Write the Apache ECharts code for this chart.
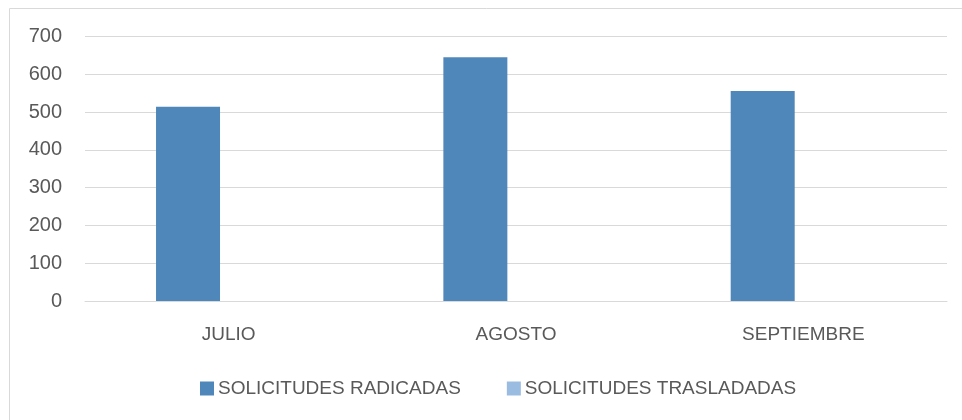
<!DOCTYPE html>
<html>
<head>
<meta charset="utf-8">
<script src="https://cdn.jsdelivr.net/npm/echarts@6/dist/echarts.min.js"></script>
<style>
  html, body { margin: 0; padding: 0; background: #fff; }
  #chart { width: 962px; height: 420px; }
</style>
</head>
<body>
<div id="chart"></div>
<script>
// datos
const meses = ["JULIO", "AGOSTO", "SEPTIEMBRE"];
const radicadas = [514, 645, 556];
const trasladadas = [0, 0, 0];
const serieNombres = ["SOLICITUDES RADICADAS", "SOLICITUDES TRASLADADAS"];

const fuente = "'Liberation Sans', Arial, sans-serif";
const gris = "#595959";

const myChart = echarts.init(document.getElementById("chart"));
const option = {
  animation: false,
  textStyle: { fontFamily: fuente },
  graphic: [
    {
      type: "rect",
      shape: { x: 9.5, y: 8.5, width: 960, height: 420 },
      style: { fill: "none", stroke: "#D9D9D9", lineWidth: 1 },
      silent: true
    }
  ],
  legend: {
    left: 195,
    top: 374,
    itemWidth: 14,
    itemHeight: 14,
    itemGap: 46,
    icon: "rect",
    textStyle: { color: gris, fontSize: 19, fontFamily: fuente, padding: [0, 0, 0, -1] },
    data: serieNombres
  },
  grid: { left: 85, right: 15, top: 36.5, bottom: 119 },
  xAxis: {
    type: "category",
    data: meses,
    axisLine: { lineStyle: { color: "#D9D9D9" } },
    axisTick: { show: false },
    axisLabel: { color: gris, fontSize: 19, margin: 24 }
  },
  yAxis: {
    type: "value",
    min: 0,
    max: 700,
    interval: 100,
    axisLine: { show: false },
    axisTick: { show: false },
    axisLabel: { color: gris, fontSize: 20, margin: 23 },
    splitLine: { lineStyle: { color: "#D9D9D9", width: 1 } }
  },
  series: [
    {
      name: serieNombres[0],
      type: "bar",
      data: radicadas,
      barWidth: 64,
      barGap: "27%",
      itemStyle: { color: "#4F87BA" }
    },
    {
      name: serieNombres[1],
      type: "bar",
      data: trasladadas,
      barWidth: 64,
      itemStyle: { color: "#9BBCE1" }
    }
  ]
};
myChart.setOption(option);
</script>
</body>
</html>
